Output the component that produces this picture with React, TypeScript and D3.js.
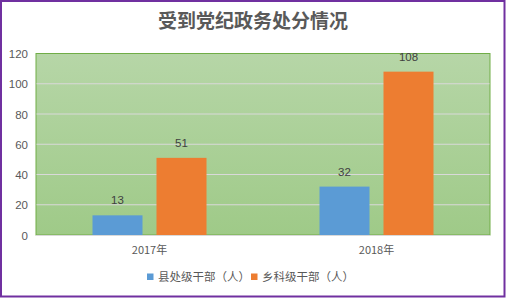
import React from "react";
import * as d3 from "d3";

const categories = ["2017年", "2018年"];
const seriesNames = ["县处级干部（人）", "乡科级干部（人）"];
const countyLevel = [13, 32];
const townshipLevel = [51, 108];
const yTicks = [0, 20, 40, 60, 80, 100, 120];
const title = "受到党纪政务处分情况";

const colors = ["#5b9bd5", "#ed7d31"];
const W = 506, H = 298;
const plot = { left: 36, right: 490, top: 53.5, bottom: 235 };

export default function App() {
  const x = d3.scaleBand<string>().domain(categories).range([plot.left, plot.right]).paddingInner(0).paddingOuter(0);
  const y = d3.scaleLinear().domain([0, 120]).range([plot.bottom, plot.top]);
  const series = [countyLevel, townshipLevel];
  const barW = 50, gap = 14;
  const groupW = barW * 2 + gap;
  const cjk = "'Noto Sans CJK SC', 'Microsoft YaHei', sans-serif";
  const num = "'Liberation Sans', 'DejaVu Sans', sans-serif";
  return (
    <svg width={W} height={H} style={{ position: "absolute", left: 0, top: 0, display: "block" }}>
      <defs>
        <linearGradient id="bg" x1="0" y1="0" x2="0" y2="1">
          <stop offset="0" stopColor="#b6d6a7" />
          <stop offset="1" stopColor="#9fca88" />
        </linearGradient>
      </defs>
      <rect x={0} y={0} width={W} height={H} fill="#fff" />
      <rect x={1} y={1} width={503.5} height={295.5} fill="#fff" stroke="#7030a0" strokeWidth={2} />
      <text x={253} y={28} textAnchor="middle" fontFamily={cjk} fontWeight="bold" fontSize={19} fill="#595959">{title}</text>
      <rect x={plot.left} y={plot.top} width={plot.right - plot.left} height={plot.bottom - plot.top} fill="url(#bg)" stroke="#70ad47" strokeWidth={1} />
      {yTicks.filter(t => t > 0 && t < 120).map(t => (
        <line key={t} x1={plot.left + 0.5} x2={plot.right - 0.5} y1={y(t)} y2={y(t)} stroke="#d9d9d9" strokeWidth={1} />
      ))}
      {yTicks.map(t => (
        <text key={"l" + t} x={28} y={y(t) + 4.5} textAnchor="end" fontFamily={num} fontSize={11.5} fill="#595959">{t}</text>
      ))}
      {categories.map((c, i) => {
        const cx = (x(c) as number) + x.bandwidth() / 2;
        return (
          <g key={c}>
            {series.map((s, j) => {
              const bx = cx - groupW / 2 + j * (barW + gap);
              return (
                <g key={j}>
                  <rect x={bx} y={y(s[i])} width={barW} height={plot.bottom - y(s[i])} fill={colors[j]} />
                  <text x={bx + barW / 2} y={y(s[i]) - 11} textAnchor="middle" fontFamily={num} fontSize={11.5} fill="#404040">{s[i]}</text>
                </g>
              );
            })}
            <text x={cx} y={254} textAnchor="middle" fontFamily={cjk} fontSize={11} fill="#595959">{c}</text>
          </g>
        );
      })}
      <line x1={plot.left} x2={plot.right} y1={plot.bottom + 0.5} y2={plot.bottom + 0.5} stroke="#d9d9d9" strokeWidth={1} />
      {seriesNames.map((n, j) => {
        const lx = j === 0 ? 147 : 251;
        return (
          <g key={n}>
            <rect x={lx} y={273.5} width={6.5} height={6.5} fill={colors[j]} />
            <text x={lx + 11} y={281} fontFamily={cjk} fontSize={11.5} fill="#595959">{n}</text>
          </g>
        );
      })}
    </svg>
  );
}
